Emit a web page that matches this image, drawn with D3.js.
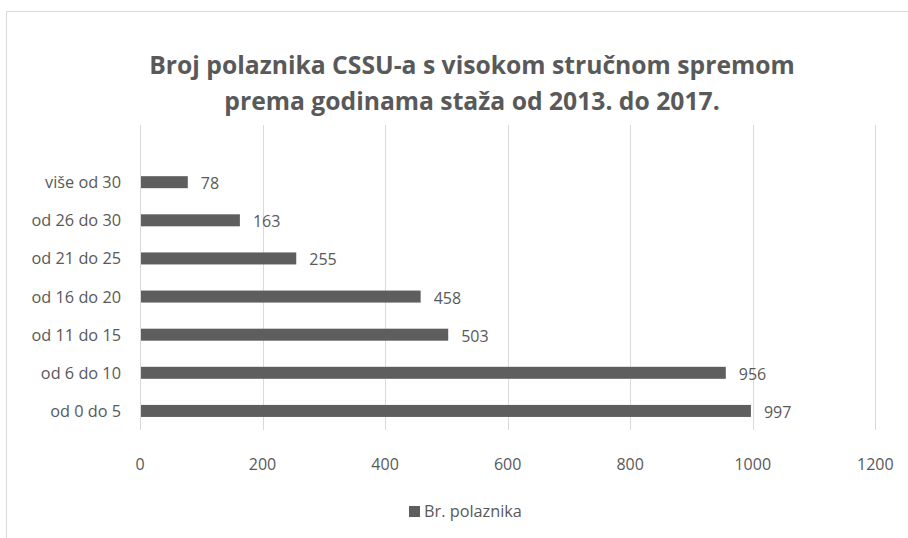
<!DOCTYPE html>
<html>
<head>
<meta charset="utf-8">
<script src="https://cdn.jsdelivr.net/npm/d3@7"></script>
<style>
  body { margin: 0; background: #fff; }
  svg { display: block; font-family: "Open Sans", sans-serif; }
</style>
</head>
<body>
<svg></svg>
<script>
// data, bottom to top as in the chart
const categories = ["od 0 do 5", "od 6 do 10", "od 11 do 15", "od 16 do 20", "od 21 do 25", "od 26 do 30", "više od 30"];
const values = [997, 956, 503, 458, 255, 163, 78];
const xTicks = [0, 200, 400, 600, 800, 1000, 1200];
const titleLines = ["Broj polaznika CSSU-a s visokom stručnom spremom", "prema godinama staža od 2013. do 2017."];
const seriesName = "Br. polaznika";

const width = 908, height = 538;
const textColor = "#595959";
const gridColor = "#d9d9d9";
const barColor = "#5e5e5e";

const svg = d3.select("svg")
    .attr("width", width)
    .attr("height", height);

// chart frame (runs off the right and bottom)
svg.append("rect")
    .attr("x", 6.5)
    .attr("y", 11.5)
    .attr("width", 1000)
    .attr("height", 600)
    .attr("fill", "none")
    .attr("stroke", gridColor);

const plot = { left: 140, right: 875.3, top: 125, bottom: 430 };

const x = d3.scaleLinear()
    .domain([0, 1200])
    .range([plot.left, plot.right]);

// one empty slot on top, as in the original
const y = d3.scaleBand()
    .domain([...categories, ""])
    .range([plot.bottom, plot.top])
    .paddingInner(0.685)
    .paddingOuter(0.3425);

// gridlines
svg.append("g")
    .selectAll("line")
    .data(xTicks)
    .join("line")
    .attr("x1", d => Math.round(x(d)) + 0.5)
    .attr("x2", d => Math.round(x(d)) + 0.5)
    .attr("y1", plot.top)
    .attr("y2", plot.bottom)
    .attr("stroke", gridColor)
    .attr("stroke-width", 1);

// x tick labels
svg.append("g")
    .selectAll("text")
    .data(xTicks)
    .join("text")
    .attr("x", d => x(d))
    .attr("y", 470)
    .attr("text-anchor", "middle")
    .style("font-size", "16px")
    .style("fill", textColor)
    .text(d => d);

// category labels
svg.append("g")
    .selectAll("text")
    .data(categories)
    .join("text")
    .attr("x", 121)
    .attr("y", d => y(d) + y.bandwidth() / 2 + 6)
    .attr("text-anchor", "end")
    .style("font-size", "16.3px")
    .style("fill", textColor)
    .text(d => d);

// bars
svg.append("g")
    .selectAll("rect")
    .data(values)
    .join("rect")
    .attr("x", x(0) + 1)
    .attr("y", (d, i) => y(categories[i]))
    .attr("width", d => x(d) - x(0) - 1)
    .attr("height", y.bandwidth())
    .attr("fill", barColor);

// value labels
svg.append("g")
    .selectAll("text")
    .data(values)
    .join("text")
    .attr("x", d => x(d) + 13)
    .attr("y", (d, i) => y(categories[i]) + y.bandwidth() / 2 + 7)
    .style("font-size", "16px")
    .style("fill", textColor)
    .text(d => d);

// title
svg.append("text")
    .attr("text-anchor", "middle")
    .style("font-size", "24.7px")
    .style("font-weight", "bold")
    .style("fill", textColor)
    .selectAll("tspan")
    .data(titleLines)
    .join("tspan")
    .attr("x", 472)
    .attr("y", (d, i) => 74 + i * 36)
    .text(d => d);

// legend
const legend = svg.append("g")
    .attr("transform", "translate(409, 506)");

legend.append("rect")
    .attr("width", 11)
    .attr("height", 11)
    .attr("fill", barColor);

legend.append("text")
    .attr("x", 15)
    .attr("y", 11)
    .style("font-size", "16.3px")
    .style("fill", textColor)
    .text(seriesName);
</script>
</body>
</html>
